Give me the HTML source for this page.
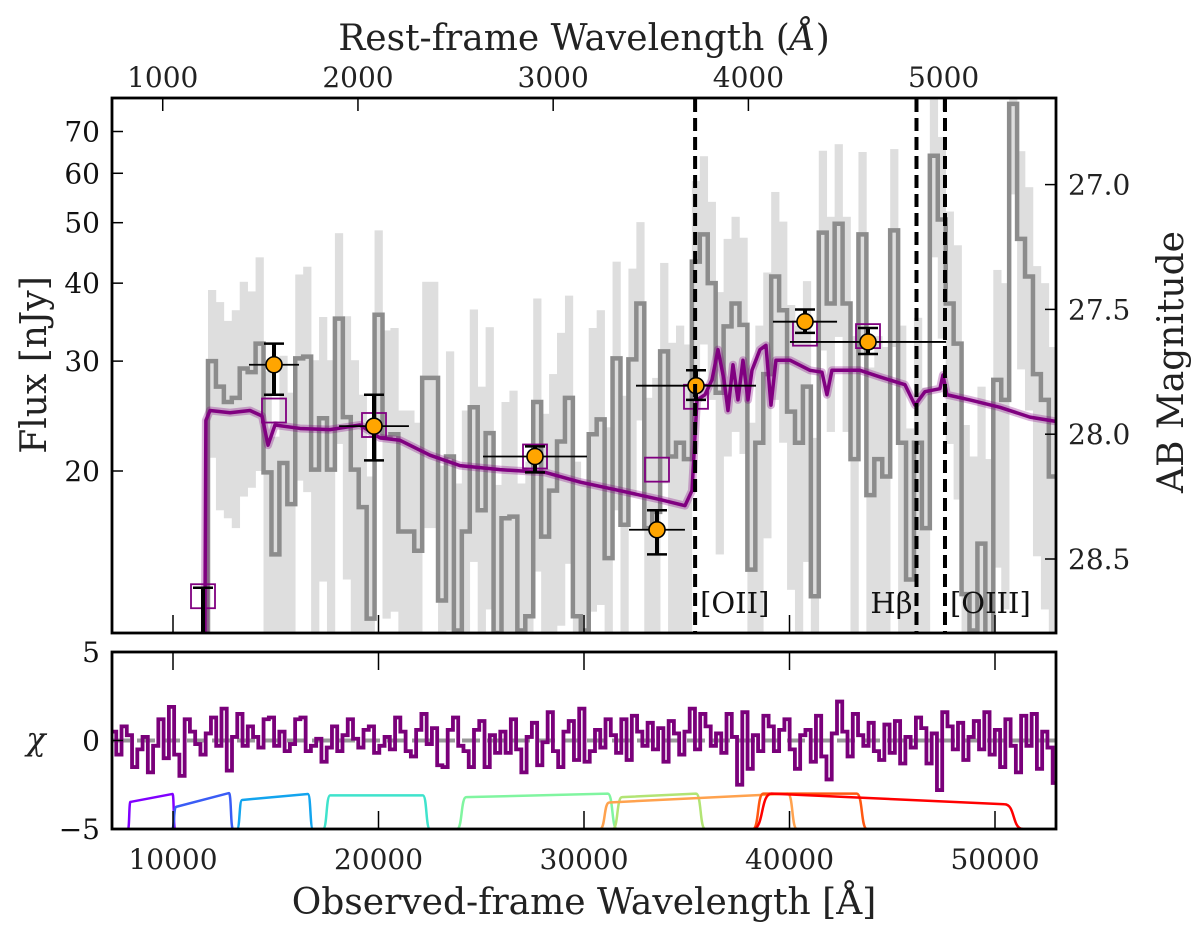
<!DOCTYPE html>
<html><head><meta charset="utf-8"><style>
html,body{margin:0;padding:0;background:#fff;}
svg{display:block;font-family:"DejaVu Serif","Liberation Serif",serif;}
</style></head><body>
<svg id="chart" width="1200" height="936" viewBox="0 0 1200 936" xmlns="http://www.w3.org/2000/svg">
<defs>
<clipPath id="clipTop"><rect x="112" y="99" width="944" height="533"/></clipPath>
<clipPath id="clipBot"><rect x="112" y="653" width="944" height="175"/></clipPath>
</defs>
<g id="topPanel"></g>
<g id="botPanel"></g>
<g id="axes"></g>
</svg>
<script>
// ---------- data ----------
const specStart = 11703;      // Å, left edge of first spectral bin
const specBin = 386;          // Å per bin
const specFlux = [30.0,27.3,25.8,26.2,29.2,28.8,32.0,19.9,14.7,20.6,17.7,30.3,30.5,20.1,24.3,20.1,35.1,24.4,20.1,17.5,11.6,35.6,22.6,22.9,16.0,16.0,14.9,28.2,28.2,12.4,21.1,11.1,16.0,25.3,17.3,23.0,11.0,16.8,16.9,11.1,11.7,25.8,15.7,18.6,22.3,26.2,11.7,11.1,22.9,24.2,14.5,30.3,16.4,
30.2,37.1,16.2,17.2,31.1,21.1,22.2,20.9,43.3,47.9,40.0,26.7,34.1,37.1,34.3,13.9,22.2,28.6,41.0,36.2,24.9,22.2,27.3,12.6,48.2,37.1,49.8,37.1,20.9,47.9,18.3,20.9,19.6,48.6,22.2,13.4,22.2,16.2,64.0,50.6,37.1,32.0,12.7,11.1,15.3,10.9,28.0,26.0,77.5,47.1,41.0,28.6,26.0,19.6];
const specErr = [9,10,9,10,11,10,12,9,8,10,9,11,12,10,11,10,13,11,10,9,8,13,11,11,9,9,9,12,12,8,10,8,9,11,10,11,8,9,10,8,9,12,9,10,11,12,9,8,11,12,9,13,10,
12,13,10,11,12,11,12,11,15,16,14,12,13,14,13,10,12,13,15,14,12,12,13,10,17,14,17,14,12,17,11,12,12,17,12,10,13,11,20,18,15,14,11,10,12,10,14,14,22,18,16,14,14,12];

const modelWave = [11540,11600,11800,12774,13747,14331,14623,14963,16180,17640,19100,20073,21046,22506,23966,25912,28102,29805,31752,33698,34914,35255,35498,35887,36228,36520,36812,37006,37250,37493,37736,37980,38174,38563,38855,39098,39341,40022,40995,41579,41822,42065,43428,44401,45618,46104,46591,47321,47467,47662,48780,50240,51700,53014];
const modelFlux = [9.0,24.1,25.0,24.8,25.0,24.5,22.0,23.7,23.4,23.3,23.7,22.6,22.4,21.2,20.4,20.1,19.9,19.2,18.6,18.0,17.6,18.6,26.0,26.5,28.0,31.3,28.0,25.0,29.6,26.0,30.1,26.0,29.0,31.3,31.8,25.5,30.1,30.1,29.0,28.8,26.5,29.0,29.0,28.3,27.5,25.5,26.8,27.1,28.5,26.5,26.0,25.3,24.4,24.0];

const photWave = [11460,14915,19781,27616,33552,35450,40754,43820];
const photFlux = [8.0,29.6,23.6,21.1,16.1,27.4,34.7,32.2];
const photErrUp = [5.0,2.4,2.9,0.8,1.2,1.6,1.6,1.7];
const photErrDn = [4.0,3.1,2.8,1.2,1.4,1.4,1.4,1.4];
const photWidth = [0,1217,1700,2530,1360,2920,1560,3800];
const modelPhot = [12.6,25.0,23.7,21.1,20.1,26.3,33.2,32.9];

const lineNames = ["[OII]","H\u03b2","[OIII]"];
const lineRest = [3727,4861,5007];
const redshiftFactor = 9.5;

const chiStart = 6983;
const chiBin = 256;
const chiVals = [0.5,-0.8,0.8,0.3,-1.5,-0.5,0.2,-1.8,-0.3,1.2,-1.0,1.9,-0.8,-2.0,1.2,0.5,-0.2,-0.8,0.4,1.3,-0.3,1.8,-1.7,0.2,1.5,-0.3,0.8,0.2,-0.4,1.2,1.3,-0.3,0.5,-0.6,-0.2,1.2,1.3,-0.6,-0.3,0.1,-1.2,-0.4,0.8,-0.6,0.3,1.2,0.1,-0.4,0.6,0.8,-0.7,-0.3,0.2,-0.5,1.3,0.5,-0.6,-0.9,0.6,1.5,-0.2,0.7,-1.4,-1.5,0.6,1.3,-0.3,-0.6,-1.5,0.6,1.1,-1.5,0.3,-0.7,0.5,-0.7,1.2,-0.5,-1.8,0.2,1.0,-1.4,-0.1,1.6,-0.6,-1.5,0.5,1.1,-1.1,1.8,-1.2,
-0.6,0.6,-0.4,1.2,0.3,-0.7,1.2,-1.1,1.4,0.5,-0.3,1.0,-0.5,0.7,-1.2,1.1,0.4,-0.8,0.5,1.8,-0.5,1.5,0.8,-0.3,0.4,-0.7,1.5,0.2,-2.5,1.6,-1.6,0.3,-0.6,1.4,0.8,-0.6,0.6,1.2,-0.5,-1.6,0.3,0.6,-1.2,1.4,-0.9,-2.2,0.4,2.2,0.5,-0.9,1.5,0.3,-0.3,1.0,-0.6,-1.1,0.9,-0.7,1.1,-1.3,0.2,-0.4,1.3,0.7,-1.3,0.4,-2.8,1.6,0.8,-0.5,1.0,-1.1,0.2,1.1,-0.5,1.6,-0.8,0.6,-1.5,1.2,-0.3,-1.8,1.4,-0.3,1.5,-1.6,0.5,-0.4,-2.4];

const filterNames = ["F090W","F115W","F150W","F200W","F277W","F356W","F444W","F410M","F480M"];
const filterLo = [7810,9951,13114,17299,23820,31400,30778,38222,38222];
const filterHi = [10097,12920,16812,22506,31605,35900,40364,43770,51360];
const filterTopStart = [-3.47,-3.75,-3.36,-3.1,-3.2,-3.2,-3.5,-3.0,-3.0];
const filterTopEnd = [-3.02,-2.97,-3.02,-3.1,-3.0,-3.0,-3.0,-3.0,-3.6];
const filterRamp = [120,200,250,350,450,450,450,500,900];
const filterColors = ["#8000ff","#3a5cf5","#12a4ee","#3fe3cc","#80f5a0","#b2e474","#ffa24e","#ff5812","#ff0000"];

const restTicks = [1000,2000,3000,4000,5000];
const obsTicks = [10000,20000,30000,40000,50000];
const fluxTicks = [20,30,40,50,60,70];
const magTicks = [27.0,27.5,28.0,28.5];
const chiTicks = [5,0,-5];

// ---------- scales ----------
const X = w => 173 + (w - 10000) * 0.02055;
const Y = f => 471 - 271 * Math.log(f / 20);
const YC = c => 740.5 - c * 17.7;
const NS = "http://www.w3.org/2000/svg";
function mk(tag, attrs, parent){ const e=document.createElementNS(NS,tag); for(const k in attrs) e.setAttribute(k,attrs[k]); parent.appendChild(e); return e; }

const topG = document.getElementById('topPanel');
const gTop = mk('g',{'clip-path':'url(#clipTop)'},topG);

// spectrum error bars
specFlux.forEach((f,i)=>{
  const x0 = X(specStart + i*specBin), x1 = X(specStart+(i+1)*specBin);
  const lo = Math.max(f - specErr[i], 5), hi = f + specErr[i];
  const r = mk('rect',{x:x0,y:Y(hi),width:x1-x0+0.3,height:Y(lo)-Y(hi),fill:'#dedede'},gTop);
  
  
});
// spectrum step line
let d = 'M'+X(specStart)+','+Y(5);
specFlux.forEach((f,i)=>{
  d += ' L'+X(specStart+i*specBin)+','+Y(f)+' L'+X(specStart+(i+1)*specBin)+','+Y(f);
});
const sp = mk('path',{d:d,fill:'none',stroke:'#8c8c8c','stroke-width':4.5,'stroke-linejoin':'miter'},gTop);



// emission lines
lineRest.forEach((r,i)=>{
  const x = X(r*redshiftFactor);
  const l = mk('line',{x1:x,y1:99,x2:x,y2:633,stroke:'#000','stroke-width':4,'stroke-dasharray':'13,6'},topG);
  
  
  const anchor = i===1 ? 'end' : 'start';
  const tx = i===1 ? x-4 : x+5;
  const t = mk('text',{x:tx,y:613,'font-size':29,'text-anchor':anchor,fill:'#111'},topG);
  t.textContent = lineNames[i];
  
  
});

// model
let md = '';
modelWave.forEach((w,i)=>{ md += (i?' L':'M')+X(w)+','+Y(modelFlux[i]); });
const mb = mk('path',{d:md,fill:'none',stroke:'#800080','stroke-opacity':0.3,'stroke-width':8,'stroke-linejoin':'round'},gTop);


const ml = mk('path',{d:md,fill:'none',stroke:'#800080','stroke-width':3.5,'stroke-linejoin':'round'},gTop);



// model photometry squares
modelPhot.forEach((f,i)=>{
  const s = mk('rect',{x:X(photWave[i])-12,y:Y(f)-12,width:24,height:24,fill:'none',stroke:'#800080','stroke-width':1.8},gTop);
  
  
});
// photometry points
photWave.forEach((w,i)=>{
  const x = X(w), y = Y(photFlux[i]), yu = Y(photFlux[i]+photErrUp[i]), yd = Y(photFlux[i]-photErrDn[i]);
  const g = mk('g',{},gTop);
  
  
  if(photWidth[i]>0) mk('line',{x1:X(w-photWidth[i]),y1:y,x2:X(w+photWidth[i]),y2:y,stroke:'#000','stroke-width':1.8},g);
  mk('line',{x1:x,y1:yu,x2:x,y2:yd,stroke:'#000','stroke-width':4},g);
  mk('line',{x1:x-10,y1:yu,x2:x+10,y2:yu,stroke:'#000','stroke-width':2.5},g);
  mk('line',{x1:x-10,y1:yd,x2:x+10,y2:yd,stroke:'#000','stroke-width':2.5},g);
  mk('circle',{cx:x,cy:y,r:8,fill:'#ffa500',stroke:'#000','stroke-width':1.6},g);
});

// ---------- bottom panel ----------
const botG = document.getElementById('botPanel');
const gBot = mk('g',{'clip-path':'url(#clipBot)'},botG);
const zl = mk('line',{x1:112,y1:YC(0),x2:1056,y2:YC(0),stroke:'#999','stroke-width':4,'stroke-dasharray':'18,7'},gBot);


let cd = '';
chiVals.forEach((c,i)=>{
  cd += (i?' L':'M')+X(chiStart+i*chiBin)+','+YC(c)+' L'+X(chiStart+(i+1)*chiBin)+','+YC(c);
});
const cl = mk('path',{d:cd,fill:'none',stroke:'#7a007a','stroke-width':3.8},gBot);


filterNames.forEach((n,i)=>{
  const lo=filterLo[i], hi=filterHi[i], r=filterRamp[i];
  const p = 'M'+X(lo)+','+YC(-5)+' C'+X(lo+r*0.6)+','+YC(-5)+' '+X(lo+r*0.4)+','+YC(filterTopStart[i])+' '+X(lo+r)+','+YC(filterTopStart[i])+
    ' L'+X(hi-r)+','+YC(filterTopEnd[i])+' C'+X(hi-r*0.4)+','+YC(filterTopEnd[i])+' '+X(hi-r*0.6)+','+YC(-5)+' '+X(hi)+','+YC(-5);
  const f = mk('path',{d:p,fill:'none',stroke:filterColors[i],'stroke-width':2.5},gBot);
  
  
});

// ---------- axes ----------
const axG = document.getElementById('axes');
function txt(s,attrs,name){ const t=mk('text',attrs,axG); t.textContent=s;   return t; }
const f1 = mk('rect',{x:112,y:98,width:944,height:535,fill:'none',stroke:'#000','stroke-width':2.8},axG);
 
const f2 = mk('rect',{x:112,y:652,width:944,height:177,fill:'none',stroke:'#000','stroke-width':2.8},axG);
 

restTicks.forEach(r=>{
  const x=X(r*redshiftFactor);
  mk('line',{x1:x,y1:98,x2:x,y2:111,stroke:'#000','stroke-width':1.5},axG);
  txt(String(r),{x:x,y:87,'font-size':28,'text-anchor':'middle',fill:'#222'},'rest-tick-label');
});
obsTicks.forEach(w=>{
  const x=X(w);
  mk('line',{x1:x,y1:633,x2:x,y2:615,stroke:'#000','stroke-width':1.5},axG);
  mk('line',{x1:x,y1:652,x2:x,y2:670,stroke:'#000','stroke-width':1.5},axG);
  mk('line',{x1:x,y1:829,x2:x,y2:811,stroke:'#000','stroke-width':1.5},axG);
  txt(String(w),{x:x,y:869,'font-size':28,'text-anchor':'middle',fill:'#222'},'observed-tick-label');
});
fluxTicks.forEach(f=>{
  const y=Y(f);
  mk('line',{x1:112,y1:y,x2:123,y2:y,stroke:'#000','stroke-width':1.5},axG);
  txt(String(f),{x:100,y:y+10,'font-size':28,'text-anchor':'end',fill:'#111'},'flux-tick-label');
});
magTicks.forEach(m=>{
  const y=Y(Math.pow(10,(31.4-m)/2.5));
  mk('line',{x1:1056,y1:y,x2:1045,y2:y,stroke:'#000','stroke-width':1.5},axG);
  txt(m.toFixed(1),{x:1068,y:y+10,'font-size':28,'text-anchor':'start',fill:'#222'},'ab-mag-tick-label');
});
chiTicks.forEach(c=>{
  const y=YC(c);
  mk('line',{x1:112,y1:y,x2:123,y2:y,stroke:'#000','stroke-width':1.5},axG);
  txt(c<0?'\u2212'+Math.abs(c):String(c),{x:100,y:y+10,'font-size':28,'text-anchor':'end',fill:'#111'},'chi-tick-label');
});
const tt = txt('Rest-frame Wavelength (',{x:584,y:50,'font-size':36,'text-anchor':'middle',fill:'#222'},'top-axis-title');
const ts = mk('tspan',{'font-style':'italic'},tt); ts.textContent='Å';
const ts2 = mk('tspan',{},tt); ts2.textContent=')';
txt('Observed-frame Wavelength [Å]',{x:584,y:914,'font-size':36,'text-anchor':'middle',fill:'#222'},'x-axis-title');
txt('Flux [nJy]',{x:0,y:0,'font-size':36,'text-anchor':'middle',fill:'#222',transform:'translate(46,365) rotate(-90)'},'y-axis-title');
txt('AB Magnitude',{x:0,y:0,'font-size':36,'text-anchor':'middle',fill:'#222',transform:'translate(1183,362) rotate(-90)'},'right-axis-title');
txt('\u03c7',{x:36,y:750,'font-size':32,'text-anchor':'middle','font-style':'italic',fill:'#222'},'chi-axis-title');
</script>
</body></html>
